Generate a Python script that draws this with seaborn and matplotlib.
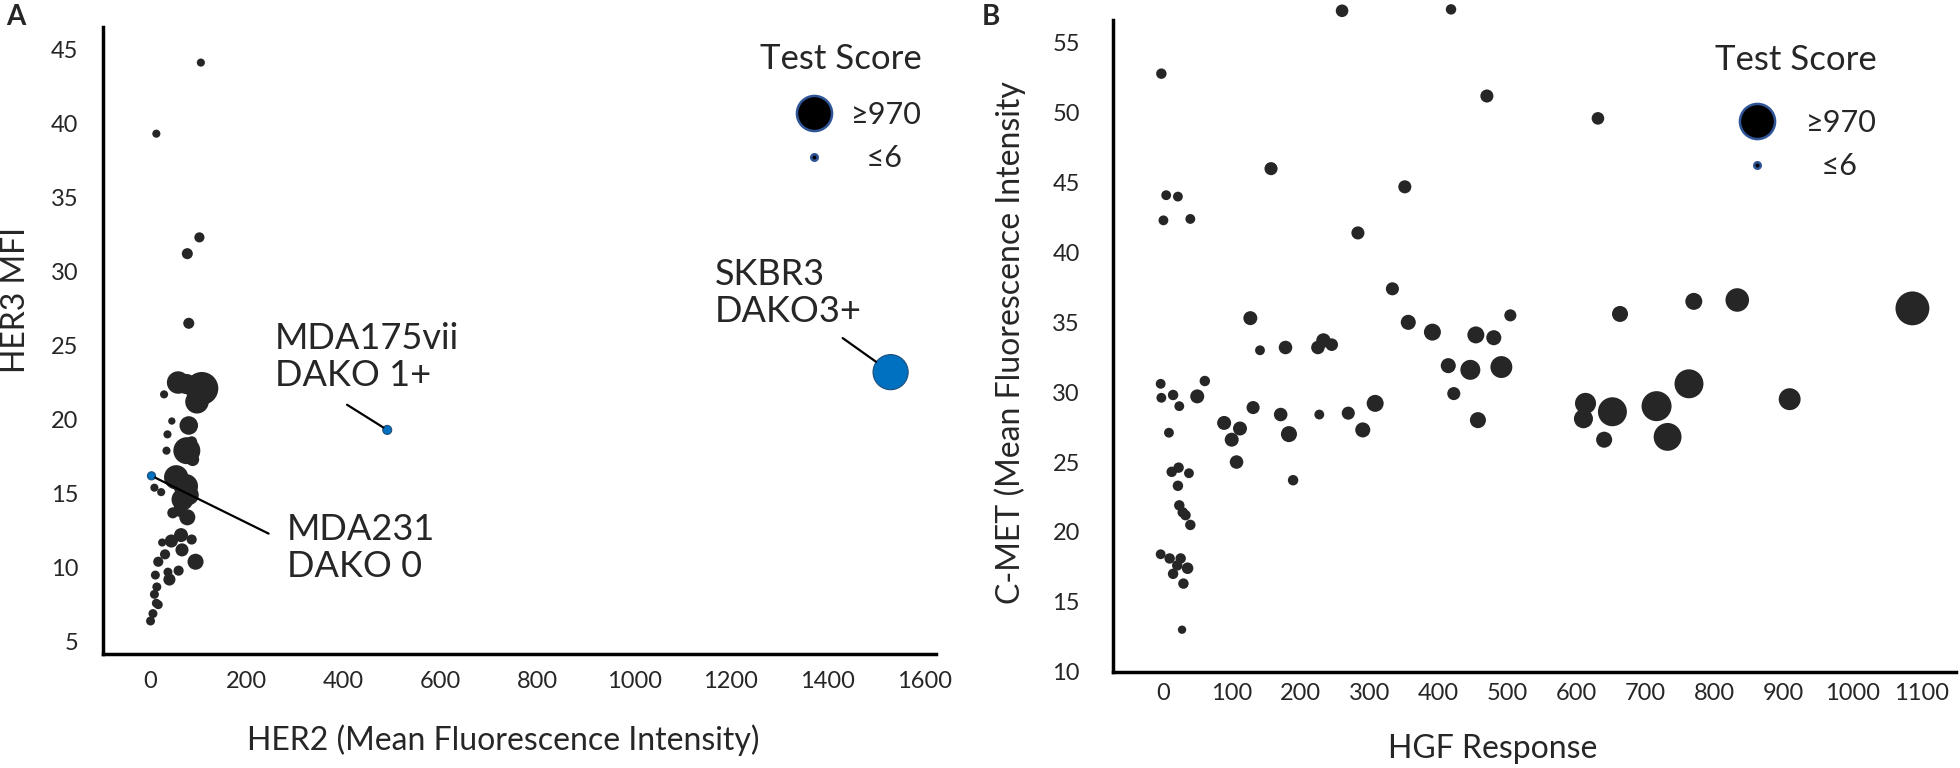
import numpy as np
import pandas as pd
import matplotlib
matplotlib.use("Agg")
import matplotlib.pyplot as plt
import seaborn as sns
from matplotlib.lines import Line2D

# ==========================================
# Data
# ==========================================
# Panel A - cell lines, HER2 vs HER3 MFI, dot size = test score
her2 = [105, 13, 102, 77, 80, 58, 107, 97, 75, 29, 45, 80, 36, 34, 76, 86, 88,
        9, 23, 54, 74, 80, 67, 62, 47, 77, 25, 44, 64, 66, 86, 31, 94, 17, 37,
        59, 11, 40, 14, 9, 13, 17, 6, 1]
her3 = [44.1, 39.3, 32.3, 31.2, 26.5, 22.5, 22.1, 21.2, 22.4, 21.7, 19.9, 19.6,
        19.0, 17.9, 17.9, 18.5, 17.3, 15.4, 15.1, 16.1, 15.5, 14.9, 14.6, 13.9,
        13.7, 13.4, 11.7, 11.8, 12.2, 11.2, 11.9, 10.9, 10.4, 10.4, 9.7, 9.8,
        9.5, 9.2, 8.7, 8.2, 7.6, 7.5, 6.9, 6.4]
score_a = [25, 25, 55, 70, 70, 380, 850, 420, 300, 25, 15, 250, 25, 25, 560, 70,
           110, 25, 25, 450, 450, 295, 360, 130, 70, 180, 25, 110, 130, 110, 55,
           55, 180, 55, 37, 55, 37, 90, 37, 37, 37, 37, 37, 37]

# reference lines (blue)
ref_names = ["MDA231\nDAKO 0", "MDA175vii\nDAKO 1+", "SKBR3\nDAKO3+"]
ref_her2 = [3, 490, 1530]
ref_her3 = [16.2, 19.3, 23.2]
ref_score = [25, 37, 1000]
# where the label text sits and where its leader line starts
ref_text_x = [282, 258, 1167]
ref_text_y = [11.35, 24.25, 28.55]
ref_line_x = [245, 407, 1431]
ref_line_y = [12.3, 21.0, 25.5]

# Panel B - HGF response vs C-MET MFI, dot size = test score
hgf = [260, 418, -2, 470, 631, 157, 351, 5, 22, 1, 40, 283, 333, 770, 833, 1087,
       663, 504, 127, 356, 391, 454, 480, 225, 233, 245, 141, 178, 414, 446, 491,
       763, -3, 61, -2, 15, 50, 422, 909, 24, 131, 308, 613, 716, 652, 610, 171,
       227, 269, 89, 457, 112, 183, 290, 9, 100, 640, 732, 107, 13, 23, 38, 189,
       22, 24, 29, 33, 40, -3, 10, 26, 21, 15, 36, 30, 28]
cmet = [57.3, 57.4, 52.8, 51.2, 49.6, 46.0, 44.7, 44.1, 44.0, 42.3, 42.4, 41.4,
        37.4, 36.5, 36.6, 36.0, 35.6, 35.5, 35.3, 35.0, 34.3, 34.1, 33.9, 33.2,
        33.7, 33.4, 33.0, 33.2, 31.9, 31.6, 31.8, 30.6, 30.6, 30.8, 29.6, 29.8,
        29.7, 29.9, 29.5, 29.0, 28.9, 29.2, 29.2, 29.0, 28.6, 28.1, 28.4, 28.4,
        28.5, 27.8, 28.0, 27.4, 27.0, 27.3, 27.1, 26.6, 26.6, 26.8, 25.0, 24.3,
        24.6, 24.2, 23.7, 23.3, 21.9, 21.4, 21.2, 20.5, 18.4, 18.1, 18.1, 17.6,
        17.0, 17.4, 16.3, 13.0]
score_b = [100, 60, 60, 110, 100, 110, 110, 50, 50, 50, 50, 110, 110, 205, 420,
           900, 180, 90, 130, 155, 205, 205, 155, 120, 140, 100, 50, 120, 155, 295,
           360, 650, 50, 60, 50, 60, 130, 110, 360, 50, 110, 205, 330, 700, 650,
           265, 120, 50, 110, 130, 180, 130, 180, 155, 50, 130, 180, 600, 120, 60,
           60, 50, 60, 60, 60, 60, 60, 60, 50, 60, 60, 60, 60, 80, 60, 28]

legend_scores = [970, 6]
legend_labels = ["\u2265970", "  \u22646"]

# ==========================================
# Style
# ==========================================
DOT = "#262626"
BLUE = "#0070C0"
EDGE = "#2F5597"
SIZES = (22, 640)
NORM = (6, 970)

sns.set_style("white")
plt.rcParams["font.family"] = ["Lato", "DejaVu Sans"]


def marker_size(score):
    # same linear area scale seaborn uses for the dots
    s = SIZES[0] + (score - NORM[0]) / (NORM[1] - NORM[0]) * (SIZES[1] - SIZES[0])
    return np.sqrt(s)


df_a = pd.DataFrame({"her2": her2, "her3": her3, "score": score_a})
df_ref = pd.DataFrame({"her2": ref_her2, "her3": ref_her3, "score": ref_score})
df_b = pd.DataFrame({"hgf": hgf, "cmet": cmet, "score": score_b})

fig = plt.figure(figsize=(19.6, 7.68), dpi=100)
ax_a = fig.add_axes([0.0526, 0.1484, 0.425, 0.8164])
ax_b = fig.add_axes([0.5679, 0.1255, 0.430, 0.849])

# ---- Panel A
sns.scatterplot(data=df_a, x="her2", y="her3", size="score", sizes=SIZES,
                size_norm=NORM, color=DOT, linewidth=0, legend=False, ax=ax_a)
sns.scatterplot(data=df_ref, x="her2", y="her3", size="score", sizes=SIZES,
                size_norm=NORM, color=BLUE, edgecolor="#1F4E79", linewidth=0.8,
                legend=False, ax=ax_a)

for i, name in enumerate(ref_names):
    ax_a.text(ref_text_x[i], ref_text_y[i], name, fontsize=26, ha="left",
              va="center", linespacing=1.15)
    shrink = marker_size(ref_score[i]) / 2
    ax_a.annotate("", xy=(ref_her2[i], ref_her3[i]),
                  xytext=(ref_line_x[i], ref_line_y[i]),
                  arrowprops=dict(arrowstyle="-", color="black", lw=1.6,
                                  shrinkA=0, shrinkB=shrink))

ax_a.set_xlim(-97, 1624)
ax_a.set_ylim(4.17, 46.5)
ax_a.set_xticks(np.arange(0, 1601, 200))
ax_a.set_yticks(np.arange(5, 46, 5))
ax_a.set_xlabel("HER2 (Mean Fluorescence Intensity)", fontsize=23)
ax_a.set_ylabel("HER3 MFI", fontsize=23)
ax_a.xaxis.set_label_coords(0.48, -0.112)
ax_a.yaxis.set_label_coords(-0.086, 0.565)
ax_a.tick_params(axis="both", length=0, labelsize=17)
ax_a.tick_params(axis="y", pad=18)
ax_a.tick_params(axis="x", pad=12)

# ---- Panel B
sns.scatterplot(data=df_b, x="hgf", y="cmet", size="score", sizes=SIZES,
                size_norm=NORM, color=DOT, linewidth=0, legend=False, ax=ax_b,
                clip_on=False)
ax_b.set_xlim(-72, 1150)
ax_b.set_ylim(10.28, 56.67)
ax_b.set_xticks(np.arange(0, 1101, 100))
ax_b.set_yticks(np.arange(10, 56, 5))
ax_b.set_xlabel("HGF Response", fontsize=23)
ax_b.set_ylabel("C-MET (Mean Fluorescence Intensity", fontsize=23)
ax_b.xaxis.set_label_coords(0.45, -0.096)
ax_b.yaxis.set_label_coords(-0.103, 0.504)
ax_b.tick_params(axis="both", length=0, labelsize=17)
ax_b.tick_params(axis="y", pad=24)
ax_b.tick_params(axis="x", pad=8)

# ---- shared styling + size legends
handles = [Line2D([0], [0], marker="o", ls="none", markersize=marker_size(sc),
                  markerfacecolor="black", markeredgecolor=EDGE,
                  markeredgewidth=1.8) for sc in legend_scores]

legend_opts = [(ax_a, (0.983, 0.975), 0.6, 19), (ax_b, (0.906, 0.963), 1.0, 24)]
for ax, anchor, textpad, title_gap in legend_opts:
    for side in ["top", "right"]:
        ax.spines[side].set_visible(False)
    for side in ["left", "bottom"]:
        ax.spines[side].set_color("black")
        ax.spines[side].set_linewidth(2.5)
    leg = ax.legend(handles, legend_labels, title="Test Score", frameon=False,
                    loc="upper right", bbox_to_anchor=anchor, fontsize=22,
                    title_fontsize=25, handlelength=1.2, handletextpad=textpad,
                    labelspacing=0.5, borderpad=0, borderaxespad=0,
                    alignment="right")
    # a little more room under the title than between the entries
    leg._legend_box.sep = title_gap

fig.text(0.003, 0.995, "A", fontsize=20, fontweight="bold", ha="left", va="top")
fig.text(0.501, 0.995, "B", fontsize=20, fontweight="bold", ha="left", va="top")

fig.savefig("out.png", dpi=100)
plt.close(fig)
